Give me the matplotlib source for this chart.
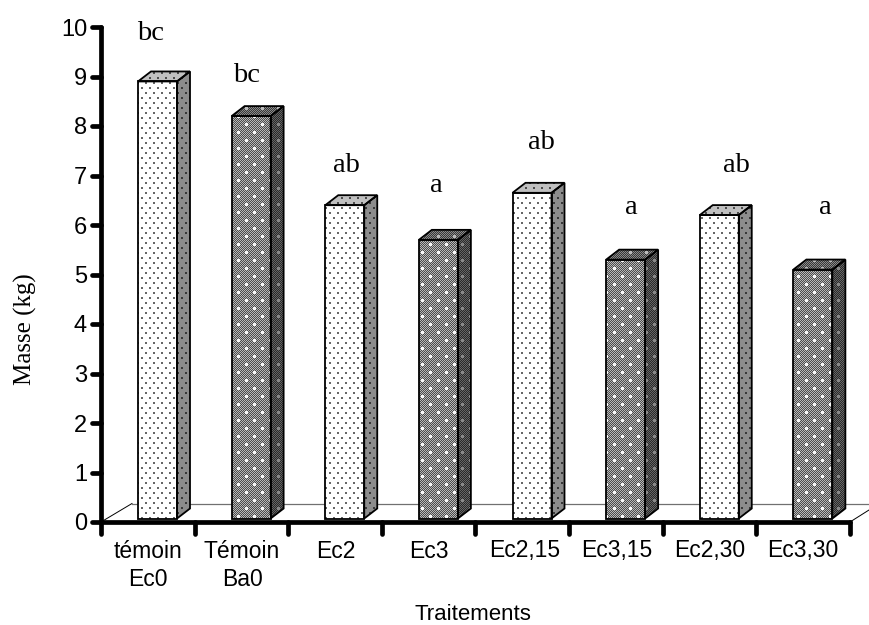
import numpy as np
import matplotlib
matplotlib.use("Agg")
import matplotlib.pyplot as plt
from matplotlib.patches import Polygon
from matplotlib.markers import MarkerStyle, TICKDOWN, TICKLEFT

categories = ["témoin\nEc0", "Témoin\nBa0", "Ec2", "Ec3", "Ec2,15", "Ec3,15", "Ec2,30", "Ec3,30"]
masse = [8.9, 8.2, 6.4, 5.7, 6.65, 5.3, 6.2, 5.1]
lettres = ["bc", "bc", "ab", "a", "ab", "a", "ab", "a"]
lettres_x = [151, 247, 346, 436, 541, 631, 736, 825]
lettres_y = [33, 75, 165, 186, 142, 208, 165, 208]
labels_x = [148, 242, 336, 429, 525, 617, 710, 803]
y_ticks = list(range(11))

W, H = 869, 625
# pixels de l'axe
x0, x1 = 101, 850
y0, y10 = 522, 27

fig = plt.figure(figsize=(W / 100, H / 100), dpi=100)
ax = fig.add_axes([x0 / W, 1 - y0 / H, (x1 - x0) / W, (y0 - y10) / H])
ax.patch.set_alpha(0)
for s in ["top", "right"]:
    ax.spines[s].set_visible(False)
for s in ["left", "bottom"]:
    ax.spines[s].set_linewidth(3.4)
    ax.spines[s].set_capstyle("round")

ax.set_xticks(np.arange(9))
ax.set_xticklabels([])
ax.set_yticks(y_ticks)
ax.tick_params(axis="x", length=8.5, width=3.4, color="k")
ax.tick_params(axis="y", length=6.5, width=3.4, pad=3.5, labelsize=17)
for t in ax.get_yticklabels():
    t.set_family("Liberation Sans")
for t in ax.xaxis.get_major_ticks():
    t.tick1line.set_marker(MarkerStyle(TICKDOWN, capstyle="round"))
for t in ax.yaxis.get_major_ticks():
    t.tick1line.set_marker(MarkerStyle(TICKLEFT, capstyle="round"))

px = 8 / (x1 - x0)
py = 10 / (y0 - y10)
dx, dy = 13 * px, 10 * py      # profondeur 3D
base = 3.5 * py                # decalage du pied de la barre
larg = 39 * px
marge = 37 * px

# plancher
sol_x, sol_y = 31 * px, 18.5 * py
ax.plot([0, sol_x], [0, sol_y], color="k", lw=0.7, clip_on=False, zorder=1)
ax.plot([8, 8 + 19 * px], [0, 12 * py], color="k", lw=0.7, clip_on=False, zorder=1)
ax.plot([sol_x, 8 + 19 * px], [sol_y, sol_y], color="#707070", lw=0.9, clip_on=False, zorder=1)

# motifs en pixels, alignes sur l'axe
nx, ny = x1 - x0, y0 - y10
jj, ii = np.meshgrid(np.arange(nx), np.arange(ny))

claire = np.ones((ny, nx))
points = ((ii % 10 < 2) & (jj % 8 < 2)) | (((ii + 5) % 10 < 2) & ((jj + 4) % 8 < 2))
claire[points] = 0.4

foncee = np.where((ii + jj) % 2 == 0, 0.72, 0.3)
blancs = ((ii % 16 < 3) & (jj % 16 < 3)) | (((ii + 8) % 16 < 3) & ((jj + 8) % 16 < 3))
foncee[blancs] = 0.97


def face(pts, motif, gain=1.0):
    poly = Polygon(pts, closed=True, fc="none", ec="k", lw=1.3, zorder=4)
    ax.add_patch(poly)
    im = ax.imshow(motif * gain, cmap="gray", vmin=0, vmax=1, aspect="auto",
                   interpolation="nearest", extent=[0, 8, 0, 10], zorder=3)
    im.set_clip_path(poly)


for i, v in enumerate(masse):
    g = i + marge
    d = g + larg
    b = base
    h = v
    motif = foncee if i % 2 else claire
    # face avant
    face([(g, b), (d, b), (d, h), (g, h)], motif)
    # cote
    face([(d, b), (d + dx, b + dy), (d + dx, h + dy), (d, h)], motif, 0.55)
    # dessus
    face([(g, h), (d, h), (d + dx, h + dy), (g + dx, h + dy)], motif, 0.75)
    fig.text(lettres_x[i] / W, 1 - lettres_y[i] / H, lettres[i], ha="center", va="center",
             family="Liberation Serif", fontsize=20.5, zorder=6)
    texte_y = 565.5 if "\n" in categories[i] else 551
    fig.text(labels_x[i] / W, 1 - texte_y / H, categories[i], ha="center", va="center",
             family="Liberation Sans", fontsize=16.5, linespacing=1.3)

ax.set_xlim(0, 8)
ax.set_ylim(0, 10)
fig.text(473 / W, 1 - 614 / H, "Traitements", ha="center", va="center",
         family="Liberation Sans", fontsize=16)
fig.text(25 / W, 1 - 329 / H, "Masse (kg)", ha="center", va="center", rotation=90,
         family="Liberation Serif", fontsize=18)

fig.savefig("out.png", dpi=100)
